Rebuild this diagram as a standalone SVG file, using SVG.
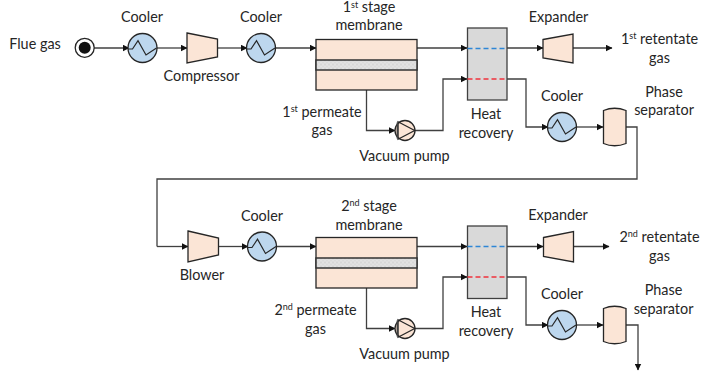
<svg xmlns="http://www.w3.org/2000/svg" width="701" height="372" viewBox="0 0 701 372">
<style>
text{font-family:"Lato","Open Sans",sans-serif;font-size:14.4px;fill:#262626;text-anchor:middle}
tspan.s{font-size:9px}
.e{fill:#fbe5d6;stroke:#262626;stroke-width:1.3}
.c{fill:#bdd7ee;stroke:#262626;stroke-width:1.3}
.z{fill:none;stroke:#262626;stroke-width:1.2}
.h{fill:#d9d9d9;stroke:#404040;stroke-width:1.3}
.l{fill:none;stroke:#404040;stroke-width:1.3;marker-end:url(#a)}
.n{fill:none;stroke:#404040;stroke-width:1.3}
.b{fill:none;stroke:#2e86d6;stroke-width:1.5;stroke-dasharray:5 3}
.r{fill:none;stroke:#f0323c;stroke-width:1.5;stroke-dasharray:5 3}
</style>
<defs>
<marker id="a" markerUnits="userSpaceOnUse" markerWidth="7" markerHeight="7" refX="6" refY="3.5" orient="auto"><path d="M0 0.300L6.500 3.500L0 6.700Z" fill="#111"/></marker>
<pattern id="d" width="4" height="4" patternUnits="userSpaceOnUse"><rect width="4" height="4" fill="#e2e2e2"/><circle cx="1" cy="1" r=".7" fill="#c4c4c4"/><circle cx="3" cy="3" r=".7" fill="#cfcfcf"/></pattern>
<g id="cool"><circle class="c" r="14.500"/><path class="z" d="M-14.500 1L-10 1L-4.500-7.300L3.500 7L14 0"/></g>
<g id="pump"><circle r="10" class="e"/><path class="z" d="M-7-8.700L9.700 0L-7 8.700Z"/><path d="M-7.500-8V8" stroke="#404040" stroke-width="1.800"/></g>
<g id="mem"><rect class="e" width="101" height="50.500"/><rect y="20.500" width="101" height="10" fill="url(#d)" stroke="#333" stroke-width="1.500"/></g>
<path id="sep" class="e" d="M0 3Q11-1.500 22.500 3V36Q11 40.500 0 36Z"/>
</defs>
<g id="connectors">
<path class="l" d="M94 48H129"/>
<path class="l" d="M157 48H187"/>
<path class="l" d="M217.500 48H247"/>
<path class="l" d="M275.500 48H316"/>
<path class="l" d="M417 48H467"/>
<path class="l" d="M507 48H543"/>
<path class="l" d="M573 48H612"/>
<path class="l" d="M366.500 90V130.500H395"/>
<path class="l" d="M415 130.500H443V79H467"/>
<path class="l" d="M507 79H526V127H548"/>
<path class="l" d="M576.500 127H603"/>
<path class="n" d="M626 127H637V179H157V246.500"/>
<path class="l" d="M157 246.500H188"/>
<path class="l" d="M218.500 246.500H248"/>
<path class="l" d="M276.500 246.500H316"/>
<path class="l" d="M417 246.500H467"/>
<path class="l" d="M507 246.500H543"/>
<path class="l" d="M573.500 246.500H609"/>
<path class="l" d="M366.500 288V328.500H395"/>
<path class="l" d="M415 328.500H443V277H467"/>
<path class="l" d="M507 277H526V325H548"/>
<path class="l" d="M576.500 325H603"/>
<path class="l" d="M625.500 325H638V370"/>
</g>
<g id="flue-gas"><circle cx="84.700" cy="47.800" r="9.500" fill="#fff" stroke="#262626" stroke-width="1.300"/><circle cx="84.700" cy="47.800" r="6" fill="#111"/><text x="35" y="49">Flue gas</text></g>
<g id="cooler1"><use href="#cool" x="142.500" y="48"/><text x="142" y="22">Cooler</text></g>
<g id="compressor"><path class="e" d="M187 33L217.500 39V57L187 63Z"/><text x="201.500" y="81">Compressor</text></g>
<g id="cooler2"><use href="#cool" x="261" y="48"/><text x="261" y="22">Cooler</text></g>
<g id="membrane1"><use href="#mem" x="316" y="39.500"/><text x="369" y="11.500">1<tspan class="s" dy="-3.500">st</tspan><tspan dy="3.500"> stage</tspan></text><text x="369" y="30">membrane</text></g>
<g id="heat1"><rect class="h" x="467.500" y="28" width="39.500" height="72"/><path class="b" d="M467.500 48.500H507"/><path class="r" d="M467.500 79H507"/><text x="486" y="119">Heat</text><text x="486" y="138">recovery</text></g>
<g id="expander1"><path class="e" d="M543 39.500L573 34V63L543 58Z"/><text x="558.500" y="22">Expander</text></g>
<g id="retentate1"><text x="659.500" y="44">1<tspan class="s" dy="-5">st</tspan><tspan dy="5"> retentate</tspan></text><text x="659.500" y="63">gas</text></g>
<g id="permeate1"><text x="322" y="117">1<tspan class="s" dy="-5">st</tspan><tspan dy="5"> permeate</tspan></text><text x="322" y="135">gas</text></g>
<g id="pump1"><use href="#pump" x="405" y="130.500"/><text x="404.500" y="161">Vacuum pump</text></g>
<g id="cooler3"><use href="#cool" x="562" y="127"/><text x="562" y="101">Cooler</text></g>
<g id="separator1"><use href="#sep" x="603.500" y="107.500"/><text x="664" y="97">Phase</text><text x="664" y="115">separator</text></g>
<g id="blower"><path class="e" d="M188 231L218.500 238V255L188 262Z"/><text x="202" y="280">Blower</text></g>
<g id="cooler4"><use href="#cool" x="262" y="246.500"/><text x="262" y="221">Cooler</text></g>
<g id="membrane2"><use href="#mem" x="316" y="237.500"/><text x="369" y="211">2<tspan class="s" dy="-5">nd</tspan><tspan dy="5"> stage</tspan></text><text x="369" y="230">membrane</text></g>
<g id="heat2"><rect class="h" x="467.500" y="226" width="39.500" height="72.500"/><path class="b" d="M467.500 246.500H507"/><path class="r" d="M467.500 277H507"/><text x="486" y="317">Heat</text><text x="486" y="336">recovery</text></g>
<g id="expander2"><path class="e" d="M543.500 237.500L573.500 231.500V262L543.500 256.500Z"/><text x="558" y="220">Expander</text></g>
<g id="retentate2"><text x="659.500" y="242">2<tspan class="s" dy="-5">nd</tspan><tspan dy="5"> retentate</tspan></text><text x="659.500" y="261">gas</text></g>
<g id="permeate2"><text x="315.500" y="315">2<tspan class="s" dy="-5">nd</tspan><tspan dy="5"> permeate</tspan></text><text x="315.500" y="333.500">gas</text></g>
<g id="pump2"><use href="#pump" x="405" y="328.500"/><text x="404.500" y="359">Vacuum pump</text></g>
<g id="cooler5"><use href="#cool" x="562" y="325"/><text x="562" y="299">Cooler</text></g>
<g id="separator2"><use href="#sep" x="603.500" y="305.500"/><text x="663.500" y="294.500">Phase</text><text x="663.500" y="314">separator</text></g>
</svg>
